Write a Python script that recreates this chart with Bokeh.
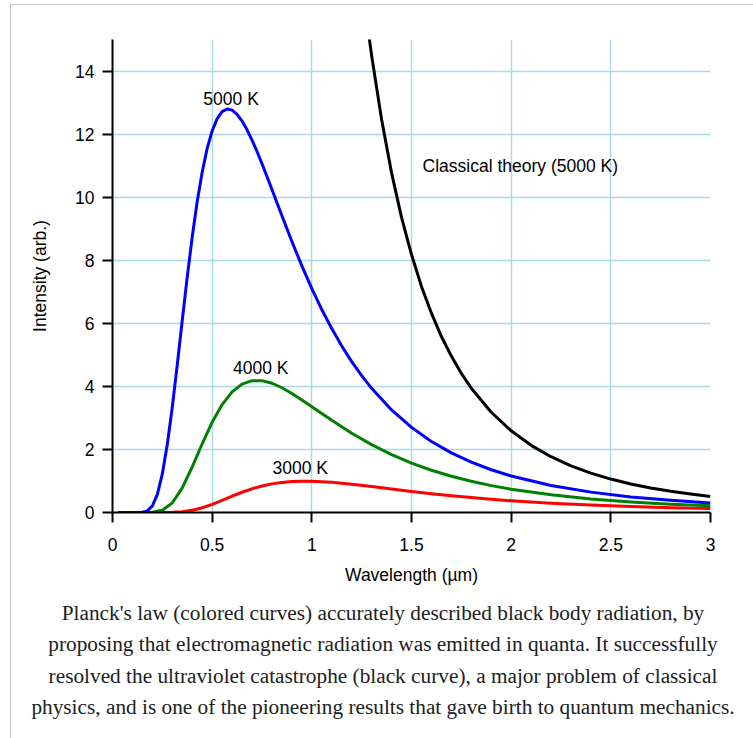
from bokeh.plotting import figure
from bokeh.models import Range1d, FixedTicker, NumeralTickFormatter
from bokeh.layouts import column
from bokeh.core.properties import value
from bokeh.embed import file_html
from bokeh.resources import INLINE

# ---- data ----
x_ticks = [0, 0.5, 1, 1.5, 2, 2.5, 3]
x_tick_labels = ["0", "0.5", "1", "1.5", "2", "2.5", "3"]
y_ticks = [0, 2, 4, 6, 8, 10, 12, 14]
y_tick_labels = ["0", "2", "4", "6", "8", "10", "12", "14"]

wl_5000 = [0.03, 0.1, 0.15, 0.175, 0.2, 0.225, 0.25, 0.275, 0.3, 0.325, 0.35, 0.375,
           0.4, 0.425, 0.45, 0.475, 0.5, 0.525, 0.55, 0.575, 0.6, 0.625, 0.65, 0.675,
           0.7, 0.725, 0.75, 0.775, 0.8, 0.85, 0.9, 0.95, 1.0, 1.05, 1.1, 1.15, 1.2, 1.25,
           1.3, 1.4, 1.5, 1.6, 1.7, 1.8, 1.9, 2.0, 2.2, 2.4, 2.6, 2.8, 3.0]
i_5000 = [0, 0, 0.007, 0.052, 0.21, 0.577, 1.223, 2.162, 3.346, 4.691, 6.096, 7.47,
          8.742, 9.862, 10.8, 11.547, 12.1, 12.489, 12.712, 12.796, 12.76, 12.628, 12.414, 12.137,
          11.81, 11.448, 11.06, 10.657, 10.243, 9.408, 8.595, 7.821, 7.101, 6.437, 5.832, 5.282, 4.786, 4.339,
          3.937, 3.251, 2.699, 2.253, 1.892, 1.597, 1.356, 1.158, 0.856, 0.646, 0.495, 0.386, 0.305]

wl_4000 = [0.03, 0.1, 0.15, 0.2, 0.25, 0.3, 0.35, 0.4, 0.45, 0.5, 0.55, 0.6, 0.65, 0.7,
           0.75, 0.8, 0.85, 0.9, 0.95, 1.0, 1.1, 1.2, 1.3, 1.4, 1.5, 1.6, 1.7, 1.8, 1.9,
           2.0, 2.2, 2.4, 2.6, 2.8, 3.0]
i_4000 = [0, 0, 0.0001, 0.006, 0.069, 0.304, 0.78, 1.446, 2.18, 2.865, 3.423, 3.825, 4.072, 4.181,
          4.181, 4.099, 3.956, 3.776, 3.571, 3.356, 2.922, 2.514, 2.152, 1.836, 1.568, 1.341, 1.15, 0.989, 0.853,
          0.738, 0.56, 0.43, 0.335, 0.265, 0.212]

wl_3000 = [0.03, 0.1, 0.15, 0.2, 0.25, 0.3, 0.35, 0.4, 0.45, 0.5, 0.55, 0.6, 0.65, 0.7,
           0.75, 0.8, 0.85, 0.9, 0.95, 1.0, 1.1, 1.2, 1.3, 1.4, 1.5, 1.6, 1.7, 1.8, 1.9,
           2.0, 2.2, 2.4, 2.6, 2.8, 3.0]
i_3000 = [0, 0, 0, 0, 0.0006, 0.0056, 0.025, 0.072, 0.152, 0.26, 0.387, 0.517, 0.642, 0.751,
          0.84, 0.908, 0.955, 0.983, 0.994, 0.992, 0.957, 0.896, 0.822, 0.744, 0.668, 0.597, 0.531, 0.472, 0.419,
          0.372, 0.295, 0.235, 0.188, 0.152, 0.124]

wl_classical = [1.25, 1.28, 1.3, 1.35, 1.4, 1.45, 1.5, 1.55, 1.6, 1.65, 1.7, 1.75, 1.8, 1.9,
                2.0, 2.1, 2.2, 2.3, 2.4, 2.5, 2.6, 2.7, 2.8, 2.9, 3.0]
i_classical = [16.95, 15.42, 14.49, 12.46, 10.77, 9.36, 8.18, 7.17, 6.32, 5.58, 4.96, 4.41, 3.94, 3.18,
               2.59, 2.13, 1.77, 1.48, 1.25, 1.06, 0.906, 0.779, 0.673, 0.585, 0.511]

curve_labels = ["5000 K", "4000 K", "3000 K", "Classical theory (5000 K)"]

caption_lines = [
    "Planck's law (colored curves) accurately described black body radiation, by",
    "proposing that electromagnetic radiation was emitted in quanta. It successfully",
    "resolved the ultraviolet catastrophe (black curve), a major problem of classical",
    "physics, and is one of the pioneering results that gave birth to quantum mechanics.",
]

SANS = "Liberation Sans"
FS = "17.5px"
GRID = "#add8e6"
W = 753

p = figure(frame_width=598, frame_height=473,
           x_range=Range1d(0, 3), y_range=Range1d(0, 15),
           min_border_left=112, min_border_right=43, min_border_top=39, min_border_bottom=78,
           output_backend="svg", toolbar_location=None)
p.frame_align = False
p.outline_line_color = None
p.background_fill_color = None
p.border_fill_color = None

p.xaxis.ticker = FixedTicker(ticks=x_ticks)
p.xaxis.formatter = NumeralTickFormatter(format="0.[0]")
p.xaxis.major_label_overrides = {t: l for t, l in zip(x_ticks, x_tick_labels)}
p.yaxis.ticker = FixedTicker(ticks=y_ticks)
p.yaxis.major_label_overrides = {t: l for t, l in zip(y_ticks, y_tick_labels)}

p.xaxis.axis_label = "Wavelength (\u00b5m)"
p.yaxis.axis_label = "Intensity (arb.)"

for ax in (p.xaxis[0], p.yaxis[0]):
    ax.axis_line_color = "black"
    ax.axis_line_width = 2
    ax.major_tick_line_color = "black"
    ax.major_tick_line_width = 2
    ax.major_tick_out = 10
    ax.major_tick_in = 0
    ax.minor_tick_out = 0
    ax.minor_tick_in = 0
    ax.major_label_text_font = SANS
    ax.major_label_text_font_size = FS
    ax.major_label_text_color = "black"
    ax.axis_label_text_font = SANS
    ax.axis_label_text_font_size = FS
    ax.axis_label_text_font_style = "normal"
    ax.axis_label_text_color = "black"

p.yaxis.major_label_standoff = 8
p.xaxis.major_label_standoff = 15
p.yaxis.axis_label_standoff = 22
p.xaxis.axis_label_standoff = 11

p.xgrid.grid_line_color = GRID
p.ygrid.grid_line_color = GRID
p.xgrid.grid_line_width = 1.5
p.ygrid.grid_line_width = 1.5

p.line(wl_classical, i_classical, line_color="black", line_width=3, line_join="round")
p.line(wl_3000, i_3000, line_color="#ff0000", line_width=3, line_join="round")
p.line(wl_4000, i_4000, line_color="#008000", line_width=3, line_join="round")
p.line(wl_5000, i_5000, line_color="#0000ff", line_width=3, line_join="round")

p.text(x=[0.595, 0.744, 0.942, 2.046], y=[13.12, 4.58, 1.41, 11.0], text=curve_labels,
       text_font=value(SANS), text_font_size=FS, text_color="black",
       text_align="center", text_baseline="alphabetic")

CAP_H = 148
cap = figure(width=W, height=CAP_H, x_range=Range1d(0, W), y_range=Range1d(CAP_H, 0),
             x_axis_type=None, y_axis_type=None,
             min_border_left=0, min_border_right=0, min_border_top=0, min_border_bottom=0,
             output_backend="svg", toolbar_location=None)
cap.frame_align = False
cap.outline_line_color = None
cap.background_fill_color = None
cap.border_fill_color = None
cap.grid.visible = False
cap.text(x=[382.5] * 4, y=[22, 53.5, 85, 116.5], text=caption_lines,
         text_font=value("Liberation Serif"), text_font_size="21.3px", text_color="#202122",
         text_align="center", text_baseline="alphabetic")

frame_bg = ("linear-gradient(#c8c8c8, #c8c8c8) 10px 4px / 1px 740px no-repeat, "
            "linear-gradient(#c8c8c8, #c8c8c8) 10px 4px / 760px 1px no-repeat, white")
layout = column(p, cap, spacing=0, styles={"background": frame_bg})

open("out.html", "w").write(file_html(layout, INLINE))
